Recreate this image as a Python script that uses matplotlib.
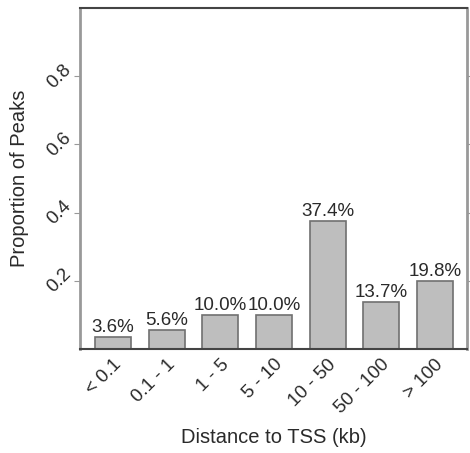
import numpy as np
import matplotlib.pyplot as plt

plt.rcParams['font.family'] = ['Liberation Sans', 'DejaVu Sans']

# === Data ===
categories = ['< 0.1', '0.1 - 1', '1 - 5', '5 - 10', '10 - 50', '50 - 100', '> 100']
proportions = [0.036, 0.056, 0.100, 0.100, 0.374, 0.137, 0.198]
pct_labels = ['3.6%', '5.6%', '10.0%', '10.0%', '37.4%', '13.7%', '19.8%']

fig = plt.figure(figsize=(4.7, 4.53), dpi=100)
ax = fig.add_axes([0.170, 0.2296, 0.8236, 0.7527])

x = np.arange(len(categories))
ax.bar(x, proportions, width=0.67, color='#bebebe', edgecolor='#707070', linewidth=1.2)

for xi, p, lab in zip(x, proportions, pct_labels):
    ax.text(xi, p + 0.003, lab, ha='center', va='bottom', fontsize=13.5, color='#2a2a2a')

ax.set_xlim(-0.62, 6.6)
ax.set_ylim(0, 1.0)
ax.set_yticks([0.2, 0.4, 0.6, 0.8])
ax.set_yticklabels(['0.2', '0.4', '0.6', '0.8'], rotation=45, fontsize=13.5,
                   va='center', ha='right', color='#2a2a2a')
ax.set_xticks(x)
ax.set_xticklabels(categories, rotation=45, ha='right', rotation_mode='anchor',
                   fontsize=13.5, color='#2a2a2a')
ax.tick_params(axis='x', length=0, pad=5)
ax.tick_params(axis='y', length=4, color='#999999', right=True, labelright=False, pad=0)

for side in ['left', 'right']:
    ax.spines[side].set_color('#999999')
    ax.spines[side].set_linewidth(2)
for side in ['top', 'bottom']:
    ax.spines[side].set_color('#444444')
    ax.spines[side].set_linewidth(1.5)

ax.set_xlabel('Distance to TSS (kb)', fontsize=14.5, color='#2a2a2a', va='center')
ax.set_ylabel('Proportion of Peaks', fontsize=14.5, color='#2a2a2a', va='center')
ax.xaxis.set_label_coords(0.5, -0.261)
ax.yaxis.set_label_coords(-0.155, 0.5)

fig.savefig('out.png', dpi=100)
